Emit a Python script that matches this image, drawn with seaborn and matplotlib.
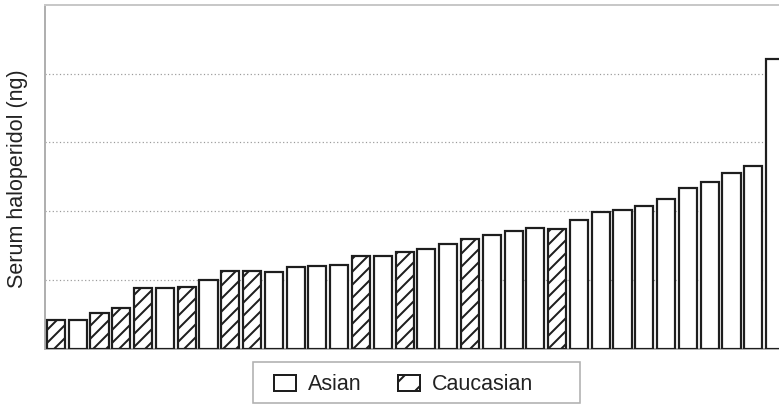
import matplotlib
matplotlib.use("Agg")
import matplotlib.pyplot as plt
from matplotlib.patches import Patch, Rectangle
import seaborn as sns
import pandas as pd

# ---- data ----
subjects = [f"S{i+1}" for i in range(34)]
serum = [0.41, 0.42, 0.51, 0.59, 0.88, 0.88, 0.90, 0.99, 1.13, 1.13,
         1.11, 1.19, 1.20, 1.22, 1.34, 1.34, 1.40, 1.45, 1.52, 1.60,
         1.65, 1.71, 1.75, 1.74, 1.87, 1.99, 2.02, 2.08, 2.17, 2.33,
         2.43, 2.56, 2.65, 4.21]
group = ["Caucasian", "Asian", "Caucasian", "Caucasian", "Caucasian", "Asian",
         "Caucasian", "Asian", "Caucasian", "Caucasian", "Asian", "Asian",
         "Asian", "Asian", "Caucasian", "Asian", "Caucasian", "Asian", "Asian",
         "Caucasian", "Asian", "Asian", "Asian", "Caucasian", "Asian", "Asian",
         "Asian", "Asian", "Asian", "Asian", "Asian", "Asian", "Asian", "Asian"]
legend_labels = ["Asian", "Caucasian"]
ylabel = "Serum haloperidol (ng)"

df = pd.DataFrame({"subject": subjects, "serum": serum, "group": group})

DPI = 78
W, H = 779, 405
px = 72.0 / DPI  # points per pixel

sns.set_style("white")
plt.rcParams["font.family"] = ["Liberation Sans", "DejaVu Sans"]
plt.rcParams["hatch.linewidth"] = 2.0 * px

fig = plt.figure(figsize=(W / DPI, H / DPI), dpi=DPI)
ax = fig.add_axes([45 / W, (H - 348.5) / H, 741 / W, 343.5 / H])

sns.barplot(data=df, x="subject", y="serum", hue="group", order=subjects,
            hue_order=legend_labels, dodge=False, width=0.83,
            palette={"Asian": "white", "Caucasian": "white"},
            edgecolor="#1e1e1e", linewidth=2.2 * px, legend=False, ax=ax,
            zorder=3)

for cont, lab in zip(ax.containers, legend_labels):
    if lab == "Caucasian":
        for bar in cont:
            bar.set_hatch("//")

ax.set_ylim(0, 5)
ax.set_xlim(-0.5, len(subjects) - 0.5)
ax.set_yticks([1, 2, 3, 4])
ax.set_yticklabels([])
ax.set_xticks([])
ax.tick_params(length=0)
ax.set_xlabel("")
ax.set_ylabel("")
ax.set_axisbelow(True)
ax.yaxis.grid(True, linestyle=(0, (1, 2)), color="#9a9a9a", linewidth=1.2 * px)
ax.xaxis.grid(False)

for side in ["left", "bottom", "top"]:
    ax.spines[side].set_visible(True)
    ax.spines[side].set_color("#b0b0b0")
    ax.spines[side].set_linewidth(2.0 * px)
ax.spines["top"].set_color("#c8c8c8")
ax.spines["right"].set_visible(False)

FS = 21.5 * px
fig.text(18 / W, 1 - 178.5 / H, ylabel, rotation=90, ha="center", va="center",
         fontsize=FS, color="#222222")

# legend
handles = [Patch(facecolor="white", edgecolor="#1e1e1e", linewidth=2.0 * px),
           Patch(facecolor="white", edgecolor="#1e1e1e", linewidth=2.0 * px, hatch="/")]
leg = fig.legend(handles, legend_labels, loc="center left",
                 bbox_to_anchor=(274 / W, 1 - 385 / H), ncol=2, frameon=False,
                 fontsize=FS, borderpad=0, handlelength=1.0, handleheight=0.8,
                 handletextpad=0.57, columnspacing=1.72, borderaxespad=0)
for t in leg.get_texts():
    t.set_color("#222222")

fig.patches.append(Rectangle((253 / W, (H - 403) / H), (580 - 253) / W, 41 / H,
                             transform=fig.transFigure, facecolor="none",
                             edgecolor="#b0b0b0", linewidth=1.6 * px))

fig.savefig("out.png", dpi=DPI)
